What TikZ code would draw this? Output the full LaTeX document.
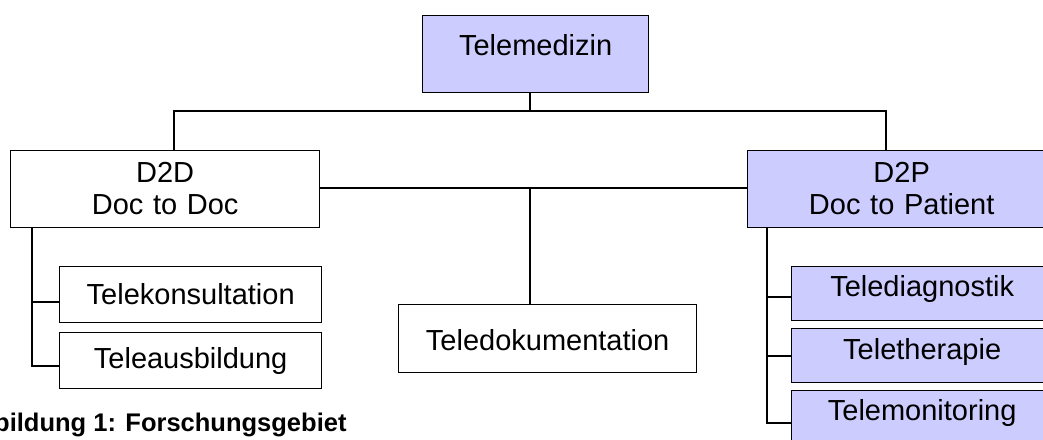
\documentclass[tikz,border=0pt]{standalone}
\usepackage{fontspec}
\setmainfont{Liberation Sans}
\definecolor{boxblue}{RGB}{204,204,255}
\tikzset{
  orgbox/.style={draw, line width=1.3pt, inner sep=0pt, align=center, anchor=north west,
    font=\fontsize{29}{32}\selectfont},
  bluebox/.style={orgbox, fill=boxblue},
  conn/.style={line width=1.3pt},
}
\begin{document}
\begin{tikzpicture}[x=1pt,y=-1pt]
    \useasboundingbox (0,0) rectangle (1043,439);
    \clip (0,0) rectangle (1043,439);
    % top
    \node[bluebox, text width=226pt, text height=40pt, text depth=37pt] (tele) at (422,15) {Telemedizin};
    % second level
    \node[orgbox, text width=309pt, text height=32pt, text depth=45pt] (d2d) at (10,150) {D2D\\Doc to Doc};
    \node[bluebox, text width=308pt, text height=32pt, text depth=45pt] (d2p) at (747,150) {D2P\\Doc to Patient};
    % under D2D
    \node[orgbox, text width=262pt, text height=38pt, text depth=18pt] (tkon) at (59,266) {Telekonsultation};
    \node[orgbox, text width=262pt, text height=36pt, text depth=20pt] (taus) at (59,332) {Teleausbildung};
    % middle
    \node[orgbox, text width=298pt, text height=46pt, text depth=22pt] (tdok) at (398,304) {Teledokumentation};
    % under D2P
    \node[bluebox, text width=261pt, text height=30pt, text depth=24pt] (tdia) at (791,266) {Telediagnostik};
    \node[bluebox, text width=261pt, text height=31pt, text depth=23pt] (tthe) at (791,328) {Teletherapie};
    \node[bluebox, text width=261pt, text height=30pt, text depth=24pt] (tmon) at (791,390) {Telemonitoring};
    % caption
    \node[anchor=base west, inner sep=0pt, font=\fontsize{25.5}{30}\selectfont\bfseries] (caption) at (-6,431) {bildung 1: Forschungsgebiet};
    % connectors
    \coordinate (busL) at (174,111);
    \coordinate (busR) at (886,111);
    \coordinate (tdrop) at (530,111);
    \coordinate (mid) at (530,188);
    \coordinate (lefttrunk) at (32,366);
    \coordinate (righttrunk) at (767,423);
    \draw[conn] (tdrop |- tele.south) -- (tdrop);
    \draw[conn] (busL |- d2d.north) -- (busL) -- (busR) -- (busR |- d2p.north);
    \draw[conn] (d2d.east |- mid) -- (d2p.west |- mid);
    \draw[conn] (mid) -- (mid |- tdok.north);
    \draw[conn] (lefttrunk |- d2d.south) -- (lefttrunk) -- (lefttrunk -| taus.west);
    \draw[conn] (32,302) -- (tkon.west |- 0,302);
    \draw[conn] (righttrunk |- d2p.south) -- (righttrunk) -- (righttrunk -| tmon.west);
    \foreach \b/\y in {tdia/297, tthe/356} {
        \draw[conn] (767,\y) -- (\b.west |- 0,\y);
    }
\end{tikzpicture}
\end{document}
